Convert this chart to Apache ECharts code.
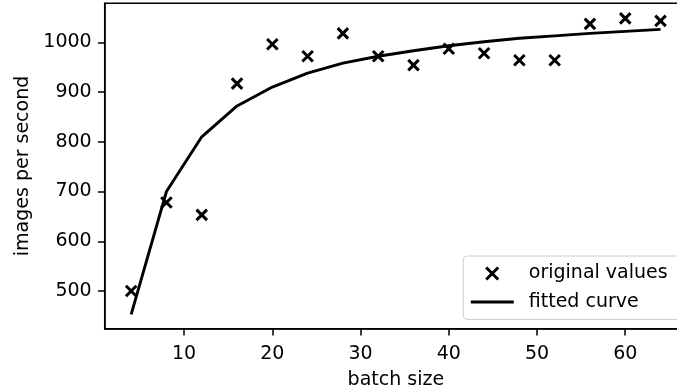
<!DOCTYPE html>
<html>
<head>
<meta charset="utf-8">
<script src="https://cdn.jsdelivr.net/npm/echarts@6/dist/echarts.min.js"></script>
<style>
html,body{margin:0;padding:0;background:#fff;}
#chart{width:677px;height:390px;}
</style>
</head>
<body>
<div id="chart"></div>
<script>
// ---- data ----
var batchSizes = [4, 8, 12, 16, 20, 24, 28, 32, 36, 40, 44, 48, 52, 56, 60, 64];
var originalValues = [500, 678, 653, 917, 996, 972, 1018, 972, 954, 987, 978, 964, 964, 1037, 1048, 1043];
var fittedValues = [453, 700, 810, 872, 910, 938, 958, 972, 983, 993, 1001, 1008, 1013, 1018, 1022, 1026];
var xTicks = [10, 20, 30, 40, 50, 60];
var yTicks = [500, 600, 700, 800, 900, 1000];
var xLabel = 'batch size';
var yLabel = 'images per second';
var seriesNames = ['original values', 'fitted curve'];

var FONT = 'DejaVu Sans';
var xIcon = 'path://M0,0M53,12M15.4,0L27.4,12M27.4,0L15.4,12';
var lineIcon = 'path://M0,0M53,12M0,4.5L43,4.5L43,7.5L0,7.5Z';

var chart = echarts.init(document.getElementById('chart'), null, {renderer: 'canvas'});
chart.setOption({
  animation: false,
  backgroundColor: '#fff',
  grid: {
    left: 104.7, top: 3.3, right: -10, bottom: 61.3,
    containLabel: false, outerBoundsMode: 'none',
    show: true, borderColor: '#000', borderWidth: 1.5, backgroundColor: 'transparent'
  },
  xAxis: {
    type: 'value', min: 1, max: 67,
    name: xLabel, nameLocation: 'middle', nameGap: 41.5,
    nameTextStyle: {fontFamily: FONT, fontSize: 19, color: '#000'},
    axisLine: {show: true, onZero: false, lineStyle: {color: '#000', width: 1.5}},
    axisTick: {show: true, length: 6.7, lineStyle: {color: '#000', width: 1.5}, customValues: xTicks},
    axisLabel: {fontFamily: FONT, fontSize: 19, color: '#000', margin: 16, customValues: xTicks,
      formatter: function (v) { return String(v); }},
    splitLine: {show: false}
  },
  yAxis: {
    type: 'value', min: 424.2, max: 1078.4,
    name: yLabel, nameLocation: 'middle', nameGap: 65, nameRotate: 90,
    nameTextStyle: {fontFamily: FONT, fontSize: 19, color: '#000'},
    axisLine: {show: true, onZero: false, lineStyle: {color: '#000', width: 1.5}},
    axisTick: {show: true, length: 6.7, lineStyle: {color: '#000', width: 1.5}, customValues: yTicks},
    axisLabel: {fontFamily: FONT, fontSize: 19, color: '#000', margin: 13, customValues: yTicks,
      formatter: function (v) { return String(v); }},
    splitLine: {show: false}
  },
  legend: {
    orient: 'vertical', left: 463.3, top: 256,
    padding: [8, 16, 8, 6], itemGap: 9.4,
    itemWidth: 53, itemHeight: 12,
    backgroundColor: 'rgba(255,255,255,0.8)', borderColor: '#cccccc', borderWidth: 1, borderRadius: 4,
    textStyle: {fontFamily: FONT, fontSize: 19, color: '#000'},
    data: [
      {name: seriesNames[0], icon: xIcon, itemStyle: {color: 'rgba(0,0,0,0)', borderColor: '#000', borderWidth: 3, opacity: 1}},
      {name: seriesNames[1], icon: lineIcon, itemStyle: {color: '#000', borderWidth: 0, opacity: 1}}
    ]
  },
  series: [
    {
      name: seriesNames[0], type: 'scatter',
      data: batchSizes.map(function (b, i) { return [b, originalValues[i]]; }),
      symbol: 'path://M0,0L10,10M10,0L0,10', symbolSize: 10.5,
      itemStyle: {color: 'rgba(0,0,0,0)', borderColor: '#000', borderWidth: 3, opacity: 1},
      z: 3
    },
    {
      name: seriesNames[1], type: 'line',
      data: batchSizes.map(function (b, i) { return [b, fittedValues[i]]; }),
      symbol: 'none', showSymbol: false, smooth: false,
      lineStyle: {color: '#000', width: 2.9},
      itemStyle: {color: '#000'},
      z: 2
    }
  ]
});
</script>
</body>
</html>
